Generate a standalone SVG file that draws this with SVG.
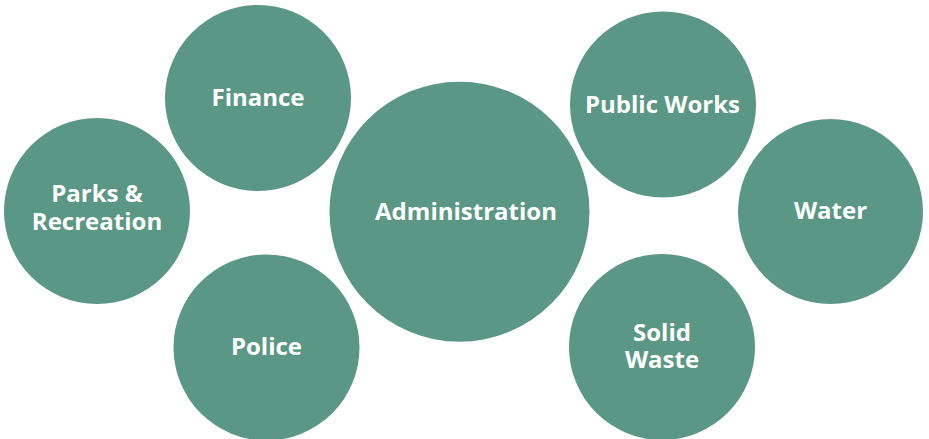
<svg xmlns="http://www.w3.org/2000/svg" width="929" height="439" viewBox="0 0 929 439">
<style>
.c{fill:#5A9785}
.t{fill:#ffffff;font-family:"Open Sans","Noto Sans",sans-serif;font-weight:bold;font-size:24px;text-anchor:middle}
</style>
<rect width="929" height="439" fill="#ffffff"/>
<g id="connectors"></g>
<g id="finance"><circle class="c" cx="258" cy="98" r="93"/><text class="t" x="258" y="106">Finance</text></g>
<g id="parks"><circle class="c" cx="97" cy="211" r="93"/><text class="t" x="97" y="201.5">Parks &amp;</text><text class="t" x="97" y="229.5">Recreation</text></g>
<g id="police"><circle class="c" cx="266.5" cy="347.5" r="93"/><text class="t" x="266.5" y="355">Police</text></g>
<g id="administration"><circle class="c" cx="459.5" cy="211.7" r="130"/><text class="t" x="466" y="220">Administration</text></g>
<g id="publicworks"><circle class="c" cx="663" cy="104.5" r="93"/><text class="t" x="662.5" y="113">Public Works</text></g>
<g id="water"><circle class="c" cx="830.5" cy="211.5" r="92.5"/><text class="t" x="830.5" y="219">Water</text></g>
<g id="solidwaste"><circle class="c" cx="662" cy="347" r="93"/><text class="t" x="662" y="340.5">Solid</text><text class="t" x="662" y="368.3">Waste</text></g>
</svg>
